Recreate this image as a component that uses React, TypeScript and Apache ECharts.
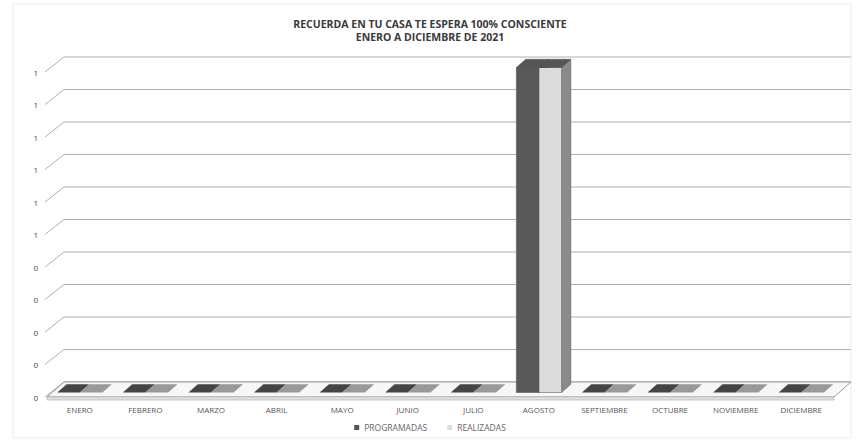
import React, { useEffect, useRef } from "react";
import * as echarts from "echarts";

const titleLines = ["RECUERDA EN TU CASA TE ESPERA 100% CONSCIENTE", "ENERO A DICIEMBRE DE 2021"];
const months = ["ENERO", "FEBRERO", "MARZO", "ABRIL", "MAYO", "JUNIO", "JULIO", "AGOSTO", "SEPTIEMBRE", "OCTUBRE", "NOVIEMBRE", "DICIEMBRE"];
const programadas = [0, 0, 0, 0, 0, 0, 0, 1, 0, 0, 0, 0];
const realizadas = [0, 0, 0, 0, 0, 0, 0, 1, 0, 0, 0, 0];
const yTicks = [0, 0.1, 0.2, 0.3, 0.4, 0.5, 0.6, 0.7, 0.8, 0.9, 1];
const seriesNames = ["PROGRAMADAS", "REALIZADAS"];

const DX = 17;
const DY = -15;
const FONT = "'Open Sans', 'Noto Sans', sans-serif";

export default function App() {
  const ref = useRef<HTMLDivElement>(null);
  useEffect(() => {
    document.body.style.margin = "0";
    const chart = echarts.init(ref.current!, null, { renderer: "svg" });

    const gridRender = (params: any, api: any) => {
      const cs = params.coordSys;
      const p = api.coord([0, api.value(1)]);
      const y = p[1];
      return {
        type: "polyline",
        shape: {
          points: [
            [cs.x - 2, y],
            [cs.x + DX, y + DY],
            [cs.x + cs.width + DX, y + DY],
          ],
        },
        style: { stroke: "#b0b0b0", lineWidth: 1, fill: null },
        silent: true,
      };
    };

    const floorRender = (params: any, api: any) => {
      const cs = params.coordSys;
      const y0 = api.coord([0, 0])[1];
      const xl = cs.x;
      const xr = cs.x + cs.width;
      return {
        type: "group",
        children: [
          {
            type: "polygon",
            shape: { points: [[xl, y0], [xl + DX, y0 + DY], [xr + DX, y0 + DY], [xr, y0]] },
            style: { fill: "#f7f7f7", stroke: "#9a9a9a", lineWidth: 1 },
          },
          {
            type: "polygon",
            shape: { points: [[xl, y0], [xr, y0], [xr, y0 + 3], [xl, y0 + 3]] },
            style: { fill: "#e2e2e2", stroke: "#a8a8a8", lineWidth: 0.6 },
          },
        ],
        silent: true,
      };
    };

    const colors = [
      { front: "#595959", top: "#454545", side: "#3a3a3a" },
      { front: "#dcdcdc", top: "#999999", side: "#8a8a8a" },
    ];

    const barRender = (s: number) => (params: any, api: any) => {
      const idx = api.value(0);
      const v = api.value(1);
      const base = api.coord([idx, 0]);
      const top = api.coord([idx, v]);
      const band = api.size([1, 0])[0];
      const bw = band * 0.345;
      const left = base[0] - bw + s * bw - 5;
      const right = left + bw;
      const f1 = 0.3;
      const f2 = 0.85;
      const ox1 = DX * f1, oy1 = DY * f1, ox2 = DX * f2, oy2 = DY * f2;
      const c = colors[s];
      const children: any[] = [];
      const h = base[1] - top[1];
      if (h > 0.5) {
        children.push({
          type: "polygon",
          shape: { points: [[right + ox1, top[1] + oy1], [right + ox2, top[1] + oy2], [right + ox2, base[1] + oy2], [right + ox1, base[1] + oy1]] },
          style: { fill: c.side, stroke: "#555", lineWidth: 0.4 },
        });
        children.push({
          type: "rect",
          shape: { x: left + ox1, y: top[1] + oy1, width: bw, height: h },
          style: { fill: c.front, stroke: "#4a4a4a", lineWidth: 0.5 },
        });
      }
      children.push({
        type: "polygon",
        shape: { points: [[left + ox1, top[1] + oy1], [right + ox1, top[1] + oy1], [right + ox2, top[1] + oy2], [left + ox2, top[1] + oy2]] },
        style: { fill: h > 0.5 ? "#555555" : c.top, stroke: h > 0.5 ? "#444" : null, lineWidth: 0.4 },
      });
      return { type: "group", children };
    };

    chart.setOption({
      animation: false,
      backgroundColor: "#ffffff",
      title: {
        text: titleLines.join("\n"),
        left: "center",
        top: 12,
        textStyle: { fontFamily: FONT, fontSize: 10.5, fontWeight: "bold", color: "#3a3a3a", lineHeight: 13 },
      },
      legend: {
        bottom: 5,
        left: "center",
        itemWidth: 5,
        itemHeight: 5,
        itemGap: 20,
        icon: "rect",
        textStyle: { fontFamily: FONT, fontSize: 8.5, color: "#666" },
        data: seriesNames,
      },
      graphic: [
        {
          type: "rect",
          shape: { x: 13, y: 4, width: 838, height: 434 },
          style: { fill: null, stroke: "#ececec", lineWidth: 1 },
          silent: true,
          z: -10,
        },
      ],
      grid: { left: 47, right: 26, top: 72, bottom: 45, containLabel: false },
      xAxis: {
        type: "category",
        data: months,
        axisLine: { show: false },
        axisTick: { show: false },
        axisLabel: { fontFamily: FONT, fontSize: 8, color: "#555", margin: 8, interval: 0 },
        splitLine: { show: false },
      },
      yAxis: {
        type: "value",
        min: 0,
        max: 1,
        interval: 0.1,
        axisLine: { show: false },
        axisTick: { show: false },
        splitLine: { show: false },
        axisLabel: {
          fontFamily: FONT,
          fontSize: 8,
          color: "#444",
          margin: 9,
          formatter: (v: number) => String(Math.round(v)),
        },
      },
      series: [
        {
          type: "custom",
          name: "grid",
          renderItem: gridRender,
          data: yTicks.map((v) => [0, v]),
          z: 1,
          silent: true,
          tooltip: { show: false },
        },
        {
          type: "custom",
          name: "floor",
          renderItem: floorRender,
          data: [[0, 0]],
          z: 2,
          silent: true,
        },
        {
          type: "custom",
          name: seriesNames[0],
          renderItem: barRender(0),
          data: programadas.map((v, i) => [i, v]),
          itemStyle: { color: "#555555" },
          z: 3,
        },
        {
          type: "custom",
          name: seriesNames[1],
          renderItem: barRender(1),
          data: realizadas.map((v, i) => [i, v]),
          itemStyle: { color: "#dddddd" },
          z: 4,
        },
      ],
    });
    return () => chart.dispose();
  }, []);
  return <div ref={ref} style={{ position: "fixed", left: 0, top: 0, width: 860, height: 442 }} />;
}
